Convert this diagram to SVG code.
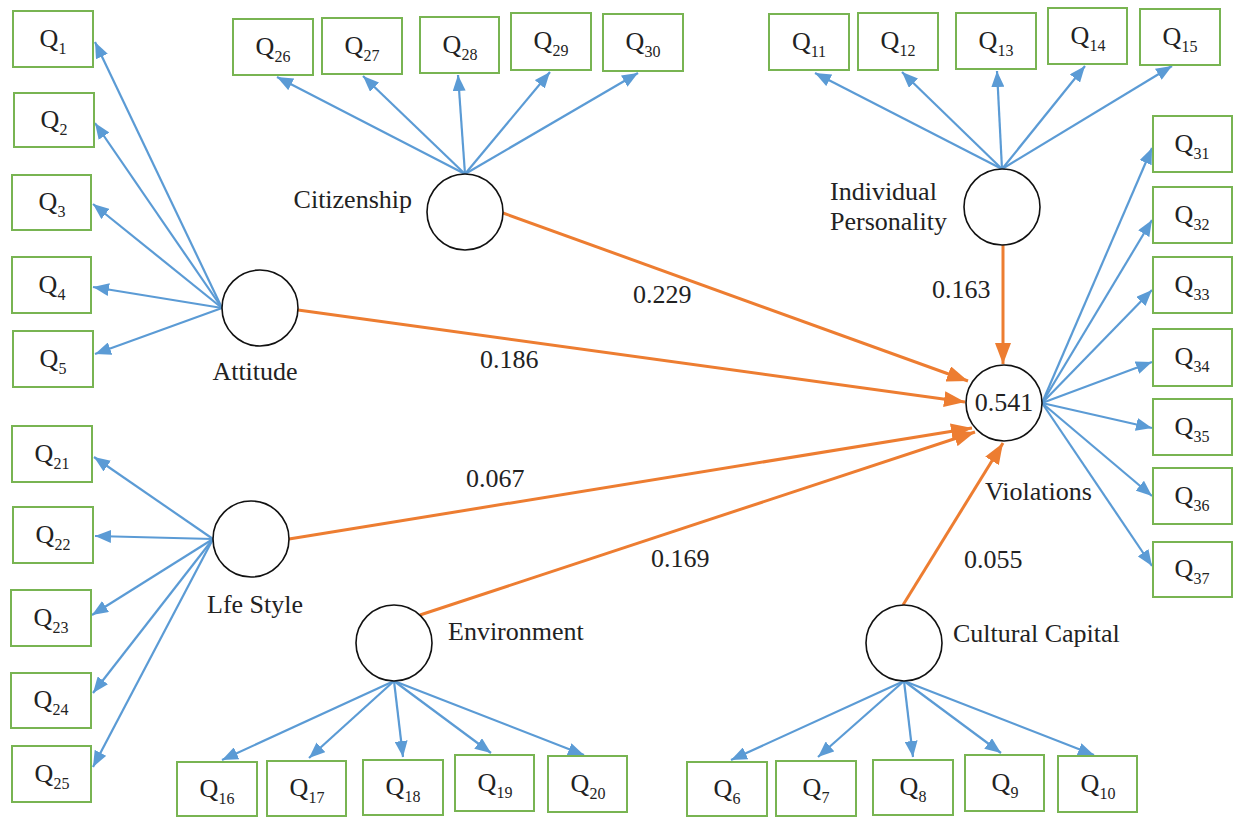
<svg xmlns="http://www.w3.org/2000/svg" width="1233" height="817" viewBox="0 0 1233 817">
<style>
text{font-family:"Liberation Serif","Times New Roman",serif;fill:#222}
.lbl{font-size:26px}
.q{font-size:26px;text-anchor:middle}
.sub{font-size:16px}
.box{fill:#fff;stroke:#78B452;stroke-width:2}
.lv{fill:#fff;stroke:#111;stroke-width:1.6}
.bl{stroke:#5B9BD5;stroke-width:2.2;fill:none;marker-end:url(#ab)}
.or{stroke:#ED7D31;stroke-width:3;fill:none;marker-end:url(#ao)}
</style>
<defs>
<marker id="ab" markerUnits="userSpaceOnUse" markerWidth="17" markerHeight="13" refX="16" refY="6.5" orient="auto"><path d="M0,0 L16,6.5 L0,13 z" fill="#5B9BD5"/></marker>
<marker id="ao" markerUnits="userSpaceOnUse" markerWidth="22" markerHeight="16" refX="21" refY="8" orient="auto"><path d="M0,0 L21,8 L0,16 z" fill="#ED7D31"/></marker>
</defs>
<rect width="1233" height="817" fill="#fff"/>
<g id="connectors">
<path class="bl" d="M222,308 L95,42"/>
<path class="bl" d="M222,308 L95,123"/>
<path class="bl" d="M222,308 L93,204"/>
<path class="bl" d="M222,308 L93,287"/>
<path class="bl" d="M222,308 L95,354"/>
<path class="bl" d="M465,174 L277,77"/>
<path class="bl" d="M465,174 L363,76"/>
<path class="bl" d="M465,174 L458,75"/>
<path class="bl" d="M465,174 L550,72"/>
<path class="bl" d="M465,174 L638,73"/>
<path class="bl" d="M1002,169 L815,73"/>
<path class="bl" d="M1002,169 L902,72"/>
<path class="bl" d="M1002,169 L997,71"/>
<path class="bl" d="M1002,169 L1085,66"/>
<path class="bl" d="M1002,169 L1172,66"/>
<path class="bl" d="M1042,403 L1152,148"/>
<path class="bl" d="M1042,403 L1152,220"/>
<path class="bl" d="M1042,403 L1152,290"/>
<path class="bl" d="M1042,403 L1152,362"/>
<path class="bl" d="M1042,403 L1152,428"/>
<path class="bl" d="M1042,403 L1152,496"/>
<path class="bl" d="M1042,403 L1152,566"/>
<path class="bl" d="M213,539 L94,457"/>
<path class="bl" d="M213,539 L95,536"/>
<path class="bl" d="M213,539 L92,615"/>
<path class="bl" d="M213,539 L93,693"/>
<path class="bl" d="M213,539 L93,767"/>
<path class="bl" d="M394,681 L222,760"/>
<path class="bl" d="M394,681 L309,758"/>
<path class="bl" d="M394,681 L403,757"/>
<path class="bl" d="M394,681 L491,753"/>
<path class="bl" d="M394,681 L584,755"/>
<path class="bl" d="M904,681 L731,760"/>
<path class="bl" d="M904,681 L818,757"/>
<path class="bl" d="M904,681 L913,757"/>
<path class="bl" d="M904,681 L1001,753"/>
<path class="bl" d="M904,681 L1094,755"/>
<path class="or" d="M503,213 L968,381"/>
<path class="or" d="M298,310 L965,402"/>
<path class="or" d="M1003,245 L1003,364"/>
<path class="or" d="M289,539 L972,428"/>
<path class="or" d="M420,615 L975,432"/>
<path class="or" d="M903,605 L1003,443"/>
<text class="lbl" x="633" y="303">0.229</text>
<text class="lbl" x="480" y="368">0.186</text>
<text class="lbl" x="932" y="298">0.163</text>
<text class="lbl" x="466" y="487">0.067</text>
<text class="lbl" x="651" y="567">0.169</text>
<text class="lbl" x="964" y="568">0.055</text>
</g>
<g id="attitude"><circle class="lv" cx="260" cy="308" r="38"/><text class="lbl" x="255" y="380" text-anchor="middle">Attitude</text></g>
<g id="citizenship"><circle class="lv" cx="465" cy="212" r="38"/><text class="lbl" x="412" y="208" text-anchor="end">Citizenship</text></g>
<g id="individual-personality"><circle class="lv" cx="1002" cy="207" r="38"/><text class="lbl" x="830" y="200">Individual</text><text class="lbl" x="830" y="230">Personality</text></g>
<g id="violations"><circle class="lv" cx="1004" cy="403" r="38"/><text class="lbl" x="1004" y="411" text-anchor="middle">0.541</text><text class="lbl" x="985" y="500">Violations</text></g>
<g id="life-style"><circle class="lv" cx="251" cy="539" r="38"/><text class="lbl" x="207" y="613">Lfe Style</text></g>
<g id="environment"><circle class="lv" cx="394" cy="643" r="38"/><text class="lbl" x="448" y="640">Environment</text></g>
<g id="cultural-capital"><circle class="lv" cx="904" cy="643" r="38"/><text class="lbl" x="953" y="642">Cultural Capital</text></g>
<g id="q1"><rect class="box" x="13" y="11" width="80" height="56"/><text class="q" x="53" y="47">Q<tspan class="sub" dy="7">1</tspan></text></g>
<g id="q2"><rect class="box" x="14" y="93" width="80" height="54"/><text class="q" x="54" y="128">Q<tspan class="sub" dy="7">2</tspan></text></g>
<g id="q3"><rect class="box" x="12" y="175" width="79" height="55"/><text class="q" x="52" y="210">Q<tspan class="sub" dy="7">3</tspan></text></g>
<g id="q4"><rect class="box" x="12" y="257" width="79" height="56"/><text class="q" x="52" y="293">Q<tspan class="sub" dy="7">4</tspan></text></g>
<g id="q5"><rect class="box" x="13" y="331" width="80" height="56"/><text class="q" x="53" y="367">Q<tspan class="sub" dy="7">5</tspan></text></g>
<g id="q26"><rect class="box" x="233" y="19" width="80" height="56"/><text class="q" x="273" y="55">Q<tspan class="sub" dy="7">26</tspan></text></g>
<g id="q27"><rect class="box" x="322" y="18" width="80" height="56"/><text class="q" x="362" y="54">Q<tspan class="sub" dy="7">27</tspan></text></g>
<g id="q28"><rect class="box" x="420" y="17" width="79" height="56"/><text class="q" x="460" y="53">Q<tspan class="sub" dy="7">28</tspan></text></g>
<g id="q29"><rect class="box" x="511" y="13" width="80" height="57"/><text class="q" x="551" y="49">Q<tspan class="sub" dy="7">29</tspan></text></g>
<g id="q30"><rect class="box" x="603" y="14" width="80" height="57"/><text class="q" x="643" y="50">Q<tspan class="sub" dy="7">30</tspan></text></g>
<g id="q11"><rect class="box" x="769" y="14" width="80" height="56"/><text class="q" x="809" y="50">Q<tspan class="sub" dy="7">11</tspan></text></g>
<g id="q12"><rect class="box" x="858" y="13" width="80" height="57"/><text class="q" x="898" y="49">Q<tspan class="sub" dy="7">12</tspan></text></g>
<g id="q13"><rect class="box" x="956" y="13" width="80" height="56"/><text class="q" x="996" y="49">Q<tspan class="sub" dy="7">13</tspan></text></g>
<g id="q14"><rect class="box" x="1048" y="8" width="79" height="56"/><text class="q" x="1088" y="44">Q<tspan class="sub" dy="7">14</tspan></text></g>
<g id="q15"><rect class="box" x="1140" y="9" width="80" height="56"/><text class="q" x="1180" y="45">Q<tspan class="sub" dy="7">15</tspan></text></g>
<g id="q31"><rect class="box" x="1153" y="116" width="79" height="56"/><text class="q" x="1192" y="152">Q<tspan class="sub" dy="7">31</tspan></text></g>
<g id="q32"><rect class="box" x="1153" y="187" width="79" height="56"/><text class="q" x="1192" y="223">Q<tspan class="sub" dy="7">32</tspan></text></g>
<g id="q33"><rect class="box" x="1153" y="257" width="79" height="56"/><text class="q" x="1192" y="293">Q<tspan class="sub" dy="7">33</tspan></text></g>
<g id="q34"><rect class="box" x="1153" y="329" width="79" height="57"/><text class="q" x="1192" y="365">Q<tspan class="sub" dy="7">34</tspan></text></g>
<g id="q35"><rect class="box" x="1153" y="399" width="79" height="56"/><text class="q" x="1192" y="435">Q<tspan class="sub" dy="7">35</tspan></text></g>
<g id="q36"><rect class="box" x="1153" y="468" width="79" height="56"/><text class="q" x="1192" y="504">Q<tspan class="sub" dy="7">36</tspan></text></g>
<g id="q37"><rect class="box" x="1153" y="542" width="79" height="55"/><text class="q" x="1192" y="577">Q<tspan class="sub" dy="7">37</tspan></text></g>
<g id="q21"><rect class="box" x="12" y="426" width="80" height="56"/><text class="q" x="52" y="462">Q<tspan class="sub" dy="7">21</tspan></text></g>
<g id="q22"><rect class="box" x="13" y="507" width="80" height="56"/><text class="q" x="53" y="543">Q<tspan class="sub" dy="7">22</tspan></text></g>
<g id="q23"><rect class="box" x="11" y="590" width="80" height="56"/><text class="q" x="51" y="626">Q<tspan class="sub" dy="7">23</tspan></text></g>
<g id="q24"><rect class="box" x="11" y="673" width="80" height="55"/><text class="q" x="51" y="708">Q<tspan class="sub" dy="7">24</tspan></text></g>
<g id="q25"><rect class="box" x="12" y="746" width="79" height="56"/><text class="q" x="52" y="782">Q<tspan class="sub" dy="7">25</tspan></text></g>
<g id="q16"><rect class="box" x="177" y="762" width="80" height="54"/><text class="q" x="217" y="797">Q<tspan class="sub" dy="7">16</tspan></text></g>
<g id="q17"><rect class="box" x="267" y="761" width="79" height="55"/><text class="q" x="307" y="796">Q<tspan class="sub" dy="7">17</tspan></text></g>
<g id="q18"><rect class="box" x="363" y="760" width="80" height="55"/><text class="q" x="403" y="795">Q<tspan class="sub" dy="7">18</tspan></text></g>
<g id="q19"><rect class="box" x="455" y="755" width="79" height="56"/><text class="q" x="495" y="791">Q<tspan class="sub" dy="7">19</tspan></text></g>
<g id="q20"><rect class="box" x="548" y="756" width="79" height="56"/><text class="q" x="588" y="792">Q<tspan class="sub" dy="7">20</tspan></text></g>
<g id="q6"><rect class="box" x="687" y="762" width="80" height="54"/><text class="q" x="727" y="797">Q<tspan class="sub" dy="7">6</tspan></text></g>
<g id="q7"><rect class="box" x="776" y="761" width="80" height="55"/><text class="q" x="816" y="796">Q<tspan class="sub" dy="7">7</tspan></text></g>
<g id="q8"><rect class="box" x="873" y="760" width="80" height="55"/><text class="q" x="913" y="795">Q<tspan class="sub" dy="7">8</tspan></text></g>
<g id="q9"><rect class="box" x="965" y="755" width="79" height="56"/><text class="q" x="1005" y="791">Q<tspan class="sub" dy="7">9</tspan></text></g>
<g id="q10"><rect class="box" x="1058" y="756" width="79" height="56"/><text class="q" x="1098" y="792">Q<tspan class="sub" dy="7">10</tspan></text></g>
</svg>
